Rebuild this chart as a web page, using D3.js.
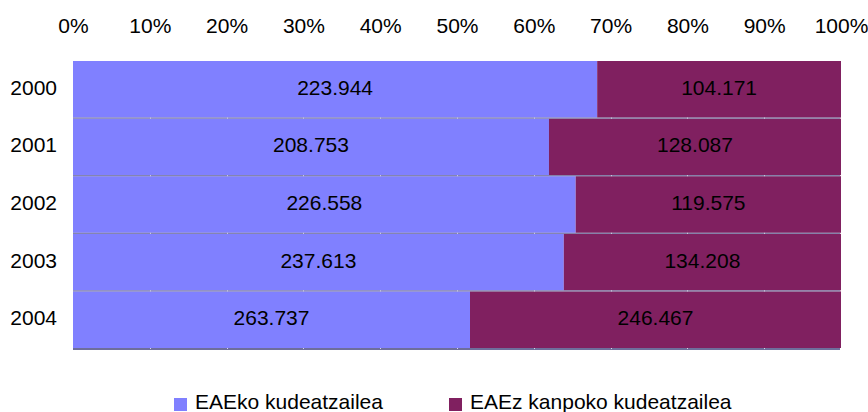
<!DOCTYPE html>
<html>
<head>
<meta charset="utf-8">
<script src="https://cdn.jsdelivr.net/npm/d3@7"></script>
<style>
  *{box-sizing: border-box;}
  body{ margin: 0; padding: 0; background: #fff; }
  svg{ display: block; font-family: "Liberation Sans", Arial, sans-serif; }
  text{ fill: #000; font-size: 21px; }
</style>
</head>
<body>
<svg id="chart" width="868" height="412"></svg>
<script>
  // datuak
  let years    = ['2000', '2001', '2002', '2003', '2004'];
  let eaeko    = [223944, 208753, 226558, 237613, 263737];
  let kanpoko  = [104171, 128087, 119575, 134208, 246467];
  let series   = ['EAEko kudeatzailea', 'EAEz kanpoko kudeatzailea'];
  let ticks    = [0, 0.1, 0.2, 0.3, 0.4, 0.5, 0.6, 0.7, 0.8, 0.9, 1];

  let colors = ['#8080FF', '#802060'];

  let svg = d3.select('svg#chart');
  let plot = { left: 73, right: 841, top: 61, bottom: 349 };

  let x = d3.scaleLinear().domain([0, 1]).range([plot.left, plot.right]);
  let y = d3.scaleBand().domain(years).range([plot.top, plot.bottom]).padding(0);

  let fmt = d3.formatLocale({ decimal: ',', thousands: '.', grouping: [3], currency: ['', ''] }).format(',d');

  let rows = years.map((yr, i) => ({ yr, a: eaeko[i], b: kanpoko[i], tot: eaeko[i] + kanpoko[i] }));
  let segs = [];
  rows.forEach(r => {
    segs.push({ yr: r.yr, s: 0, x0: 0, x1: r.a / r.tot, v: r.a });
    segs.push({ yr: r.yr, s: 1, x0: r.a / r.tot, x1: 1, v: r.b });
  });

  // barrak
  svg.selectAll('.bar')
    .data(segs)
    .enter()
    .append('rect')
      .attr('class', 'bar')
      .attr('x', d => x(d.x0))
      .attr('y', d => y(d.yr))
      .attr('width', d => x(d.x1) - x(d.x0))
      .attr('height', y.bandwidth() - 1)
      .attr('fill', d => colors[d.s]);

  // banda arteko lerroak
  svg.selectAll('.sep')
    .data(years)
    .enter()
    .append('rect')
      .attr('class', 'sep')
      .attr('x', x(0))
      .attr('y', d => y(d) + y.bandwidth() - 1)
      .attr('width', x(1) - x(0) - 1)
      .attr('height', (d, i) => i == years.length - 1 ? 2 : 1)
      .attr('fill', '#6E6E9C');

  // sareta puntuak lerroen gainean
  let dots = [];
  years.forEach(yr => ticks.slice(1, -1).forEach(t => dots.push({ yr, t })));
  svg.selectAll('.dot')
    .data(dots)
    .enter()
    .append('rect')
      .attr('class', 'dot')
      .attr('x', d => Math.round(x(d.t)))
      .attr('y', d => y(d.yr) + y.bandwidth() - 1)
      .attr('width', 1)
      .attr('height', 1)
      .attr('fill', '#d8d8e8');

  // goiko ardatza
  svg.append('g')
    .attr('transform', `translate(0, ${plot.top})`)
    .call(d3.axisTop(x).tickValues(ticks).tickFormat(d3.format('.0%')).tickSize(0).tickPadding(28))
    .call(g => g.select('.domain').remove())
    .selectAll('text')
      .style('font-size', '21px')
      .style('font-family', '"Liberation Sans", Arial, sans-serif')
      .attr('fill', '#000');

  // urteak
  svg.append('g')
    .attr('transform', `translate(${plot.left}, 0)`)
    .call(d3.axisLeft(y).tickSize(0).tickPadding(16))
    .call(g => g.select('.domain').remove())
    .selectAll('text')
      .attr('dy', '0.24em')
      .style('font-size', '21px')
      .style('font-family', '"Liberation Sans", Arial, sans-serif')
      .attr('fill', '#000');

  // etiketak
  svg.selectAll('.lbl')
    .data(segs)
    .enter()
    .append('text')
      .attr('class', 'lbl')
      .attr('x', d => (x(d.x0) + x(d.x1)) / 2)
      .attr('y', d => y(d.yr) + y.bandwidth() / 2)
      .attr('dy', '0.24em')
      .attr('text-anchor', 'middle')
      .text(d => fmt(d.v));

  // legenda
  let legX = [174, 449];
  let leg = svg.selectAll('.leg')
    .data(series)
    .enter()
    .append('g')
      .attr('class', 'leg')
      .attr('transform', (d, i) => `translate(${legX[i]}, 398)`);
  leg.append('rect')
    .attr('width', 13)
    .attr('height', 13)
    .attr('fill', (d, i) => colors[i]);
  leg.append('text')
    .attr('x', 21)
    .attr('y', 11)
    .text(d => d);
</script>
</body>
</html>
